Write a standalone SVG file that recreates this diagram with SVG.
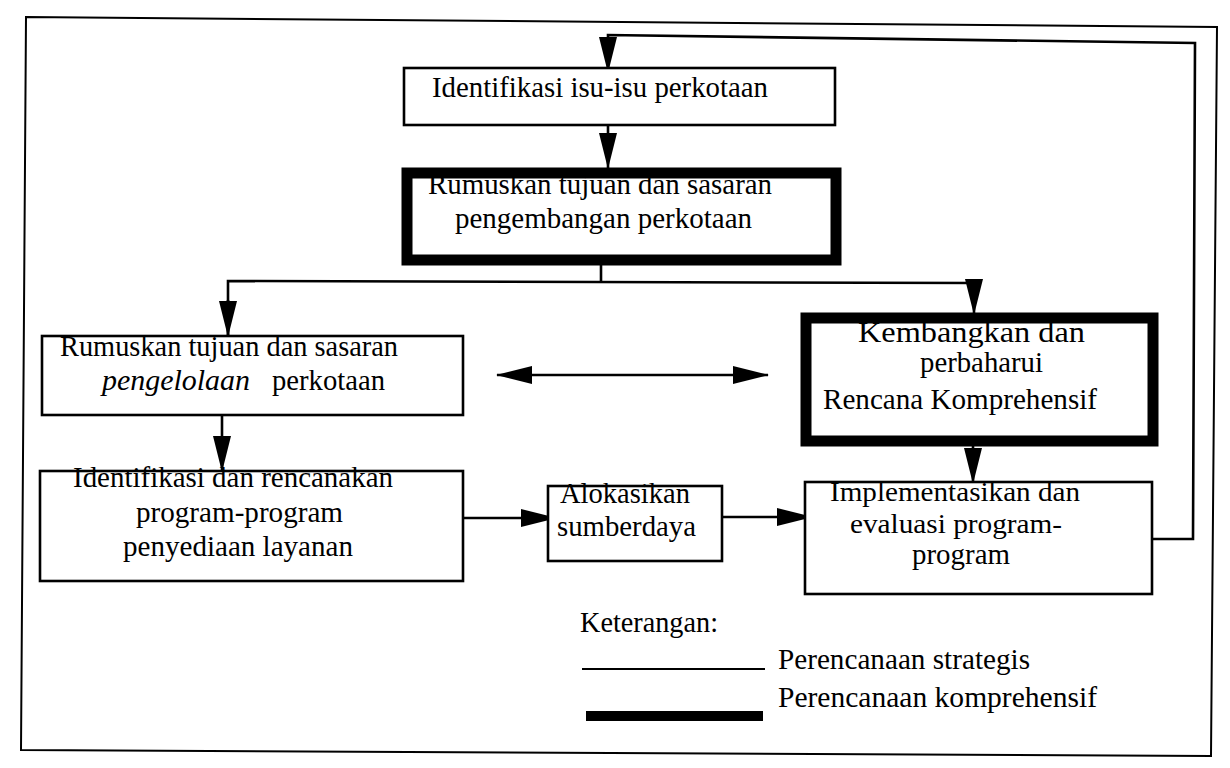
<svg xmlns="http://www.w3.org/2000/svg" width="1230" height="768" viewBox="0 0 1230 768">
<style>
text{font-family:"Liberation Serif","Times New Roman",serif;font-size:30px;fill:#000}
.sm{font-size:28px}
.thin{fill:none;stroke:#000;stroke-width:2.6}
.thick{fill:none;stroke:#000;stroke-width:11}
.bg{fill:#fff}
.con{fill:none;stroke:#000;stroke-width:2.6}
</style>
<defs>
<marker id="ah" markerUnits="userSpaceOnUse" markerWidth="36" markerHeight="18" refX="35" refY="9" orient="auto-start-reverse" viewBox="0 0 36 18">
<path d="M0,0 L36,9 L0,18 z" fill="#000"/>
</marker>
</defs>
<rect width="1230" height="768" fill="#fff"/>
<polygon points="26,17 1217,27 1211,756 21,750" fill="none" stroke="#000" stroke-width="2"/>

<g id="connectors">
<polyline class="con" points="1152,539 1193,539 1195,43 608,35 608,72" marker-end="url(#ah)"/>
<line class="con" x1="608" y1="125" x2="608" y2="168" marker-end="url(#ah)"/>
<line class="con" x1="601" y1="265" x2="601" y2="282"/>
<polyline class="con" points="228,336 228,281 974,283 974,314" marker-end="url(#ah)"/>
<line class="con" x1="228" y1="300" x2="228" y2="336" marker-end="url(#ah)"/>
<line class="con" x1="497" y1="375" x2="768" y2="375" marker-start="url(#ah)" marker-end="url(#ah)"/>
<line class="con" x1="222" y1="415" x2="222" y2="471" marker-end="url(#ah)"/>
<line class="con" x1="973" y1="446" x2="973" y2="483" marker-end="url(#ah)"/>
<line class="con" x1="463" y1="518" x2="556" y2="518" marker-end="url(#ah)"/>
<line class="con" x1="722" y1="517" x2="812" y2="517" marker-end="url(#ah)"/>
</g>

<g id="n1">
<rect class="bg" x="404" y="68" width="431" height="57"/>
<text x="432" y="97" textLength="336" lengthAdjust="spacingAndGlyphs">Identifikasi isu-isu perkotaan</text>
<rect class="thin" x="404" y="68" width="431" height="57"/>
</g>

<g id="n2">
<rect class="bg" x="407" y="173" width="429" height="87"/>
<text x="428" y="194" textLength="344" lengthAdjust="spacingAndGlyphs">Rumuskan tujuan dan sasaran</text>
<text x="455" y="228" textLength="297" lengthAdjust="spacingAndGlyphs">pengembangan perkotaan</text>
<rect class="thick" x="407" y="173" width="429" height="87"/>
</g>

<g id="n3">
<rect class="bg" x="42" y="336" width="421" height="79"/>
<text x="60" y="356" textLength="338" lengthAdjust="spacingAndGlyphs">Rumuskan tujuan dan sasaran</text>
<text x="102" y="390" font-style="italic" textLength="148" lengthAdjust="spacingAndGlyphs">pengelolaan</text>
<text x="272" y="390" textLength="113" lengthAdjust="spacingAndGlyphs">perkotaan</text>
<rect class="thin" x="42" y="336" width="421" height="79"/>
</g>

<g id="n4">
<rect class="bg" x="806" y="318" width="347" height="123"/>
<text x="858" y="342" textLength="227" lengthAdjust="spacingAndGlyphs">Kembangkan dan</text>
<text x="920" y="372" textLength="123" lengthAdjust="spacingAndGlyphs">perbaharui</text>
<text x="823" y="409" textLength="274" lengthAdjust="spacingAndGlyphs">Rencana Komprehensif</text>
<rect class="thick" x="806" y="318" width="347" height="123"/>
</g>

<g id="n5">
<rect class="bg" x="40" y="471" width="423" height="110"/>
<text x="73" y="487" textLength="320" lengthAdjust="spacingAndGlyphs">Identifikasi dan rencanakan</text>
<text x="136" y="522" textLength="207" lengthAdjust="spacingAndGlyphs">program-program</text>
<text x="123" y="556" textLength="230" lengthAdjust="spacingAndGlyphs">penyediaan layanan</text>
<rect class="thin" x="40" y="471" width="423" height="110"/>
</g>

<g id="n6">
<rect class="bg" x="548" y="486" width="174" height="75"/>
<text x="560" y="503" textLength="130" lengthAdjust="spacingAndGlyphs">Alokasikan</text>
<text x="557" y="536" textLength="139" lengthAdjust="spacingAndGlyphs">sumberdaya</text>
<rect class="thin" x="548" y="486" width="174" height="75"/>
</g>

<g id="n7">
<rect class="bg" x="805" y="482" width="347" height="112"/>
<text class="sm" x="830" y="501" textLength="250" lengthAdjust="spacingAndGlyphs">Implementasikan dan</text>
<text class="sm" x="850" y="533" textLength="212" lengthAdjust="spacingAndGlyphs">evaluasi program-</text>
<text x="912" y="564" textLength="98" lengthAdjust="spacingAndGlyphs">program</text>
<rect class="thin" x="805" y="482" width="347" height="112"/>
</g>

<g id="legend">
<text x="580" y="632" textLength="138" lengthAdjust="spacingAndGlyphs">Keterangan:</text>
<line x1="582" y1="669" x2="765" y2="669" stroke="#000" stroke-width="2.2"/>
<text x="778" y="669" textLength="252" lengthAdjust="spacingAndGlyphs">Perencanaan strategis</text>
<line x1="586" y1="716" x2="763" y2="716" stroke="#000" stroke-width="10"/>
<text x="778" y="707" textLength="319" lengthAdjust="spacingAndGlyphs">Perencanaan komprehensif</text>
</g>
</svg>
